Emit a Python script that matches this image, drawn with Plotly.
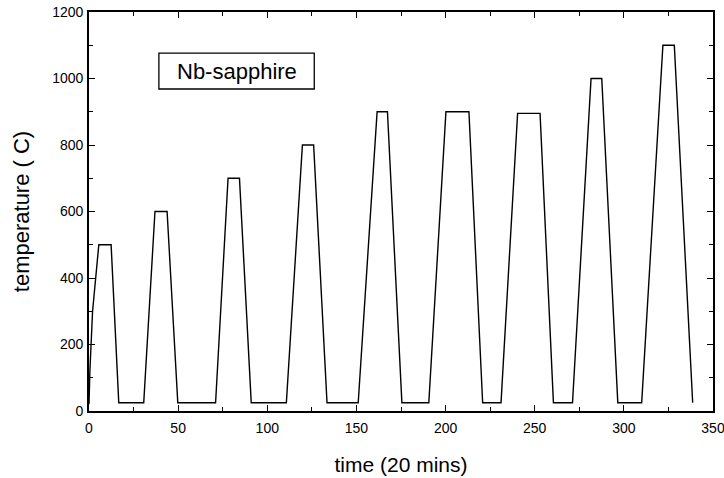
import plotly.graph_objects as go

# time (units of 20 mins) and temperature (C)
time = [0, 0.5, 2, 5.5, 12.4, 16.7, 30.7, 37, 43.8, 49.8, 71, 78, 84.4, 91,
        110.7, 119.7, 126, 133.5, 151, 161.6, 167.4, 175.5, 190.6, 200.2,
        213.1, 220.8, 231.1, 240.4, 253, 260.5, 271.2, 281.6, 287.6, 296.6,
        310, 321.9, 328.3, 338.6]
temperature = [20, 120, 300, 500, 500, 25, 25, 600, 600, 25, 25, 700, 700, 25,
               25, 800, 800, 25, 25, 900, 900, 25, 25, 900,
               900, 25, 25, 895, 895, 25, 25, 1000, 1000, 25,
               25, 1100, 1100, 25]

x_ticks = [0, 50, 100, 150, 200, 250, 300, 350]
y_ticks = [0, 200, 400, 600, 800, 1000, 1200]
label = "Nb-sapphire"

FONT = "Arial, Liberation Sans, Helvetica, sans-serif"

fig = go.Figure()
fig.add_trace(go.Scatter(x=time, y=temperature, mode="lines",
                         line=dict(color="black", width=1.4),
                         showlegend=False, hoverinfo="skip"))

axis_common = dict(
    showgrid=False, zeroline=False, showline=True, linecolor="black",
    linewidth=1.6, mirror="ticks", ticks="inside", ticklen=6, tickwidth=1.2,
    tickcolor="black", automargin=False, ticklabeloverflow="allow",
    tickfont=dict(family=FONT, size=14, color="black"),
)

fig.update_xaxes(range=[0, 350], tickvals=x_ticks, ticklabelstandoff=3,
                 minor=dict(dtick=25, tick0=0, ticks="inside", ticklen=4,
                            tickcolor="black", tickwidth=1),
                 title=dict(text="time (20 mins)", standoff=23,
                            font=dict(family=FONT, size=21, color="black")),
                 **axis_common)
fig.update_yaxes(range=[0, 1200], tickvals=y_ticks, ticklabelstandoff=1,
                 minor=dict(dtick=100, tick0=0, ticks="inside", ticklen=4,
                            tickcolor="black", tickwidth=1),
                 title=dict(text="temperature ( C)", standoff=17,
                            font=dict(family=FONT, size=22, color="black")),
                 **axis_common)

# label box
fig.add_shape(type="rect", xref="paper", yref="paper",
              x0=0.112, x1=0.361, y0=0.807, y1=0.897,
              line=dict(color="black", width=1.3), fillcolor="white")
fig.add_annotation(x=0.237, y=0.852, xref="paper", yref="paper",
                   text=label, showarrow=False,
                   font=dict(family=FONT, size=22, color="black"),
                   xanchor="center", yanchor="middle")

fig.update_layout(
    width=724, height=478,
    margin=dict(l=89, r=11, t=12, b=67),
    paper_bgcolor="white", plot_bgcolor="white",
)

# remove the default 8px page margin so the figure fills the window exactly
fig.write_html("out.html", config=dict(displayModeBar=False),
               post_script="document.body.style.margin='0';")
